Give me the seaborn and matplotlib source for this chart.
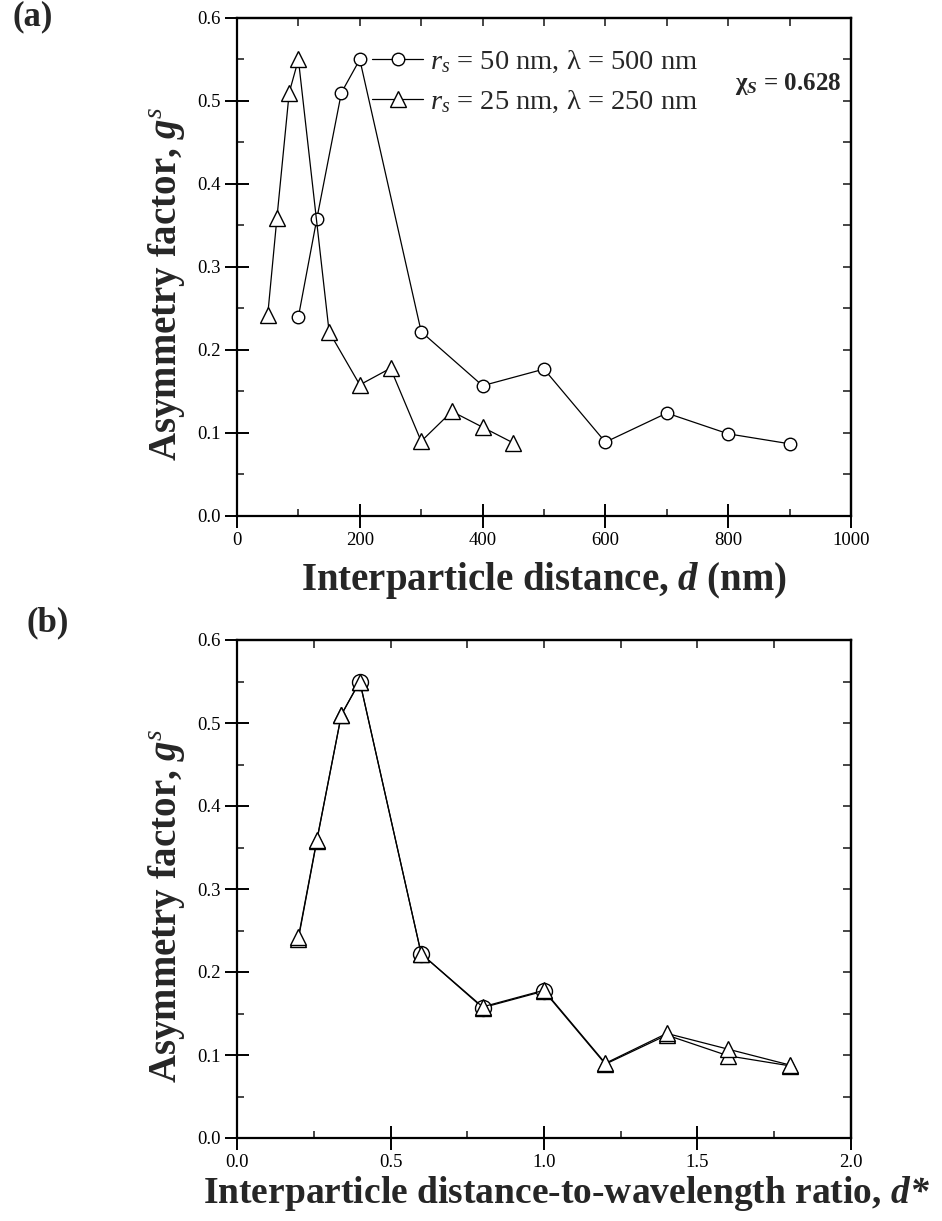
import matplotlib
matplotlib.use("Agg")
import matplotlib.pyplot as plt
import seaborn as sns
import numpy as np
from matplotlib.lines import Line2D
from matplotlib.ticker import MultipleLocator, NullFormatter

sns.set_theme(style="ticks")
plt.rcParams["font.family"] = ["Liberation Serif", "DejaVu Serif"]
plt.rcParams["mathtext.fontset"] = "custom"
plt.rcParams["mathtext.rm"] = "Liberation Serif"
plt.rcParams["mathtext.it"] = "Liberation Serif:italic"
plt.rcParams["mathtext.bf"] = "Liberation Serif:italic:bold"

# r_s = 50 nm, lambda = 500 nm
d_50 = [100, 130, 170, 200, 300, 400, 500, 600, 700, 800, 900]
g_50 = [0.240, 0.358, 0.510, 0.550, 0.222, 0.157, 0.177, 0.089, 0.124, 0.099, 0.087]
lam_50 = 500

# r_s = 25 nm, lambda = 250 nm
d_25 = [50, 65, 85, 100, 150, 200, 250, 300, 350, 400, 450]
g_25 = [0.242, 0.359, 0.510, 0.550, 0.222, 0.158, 0.178, 0.090, 0.126, 0.107, 0.088]
lam_25 = 250

label_50 = r"$r_s$ = 50 nm, λ = 500 nm"
label_25 = r"$r_s$ = 25 nm, λ = 250 nm"

W, H = 942, 1221
fig = plt.figure(figsize=(W / 100, H / 100), dpi=100)

def axes_box(left, top, right, bottom):
    return [left / W, 1 - bottom / H, (right - left) / W, (bottom - top) / H]

ax_a = fig.add_axes(axes_box(237, 18, 851, 516))
ax_b = fig.add_axes(axes_box(237, 640, 851, 1138))

line_kw = dict(color="black", linewidth=0.9, markerfacecolor="white",
               markeredgecolor="black", markeredgewidth=1.0)

# Panel (a): asymmetry factor vs distance
sns.lineplot(x=d_50, y=g_50, ax=ax_a, sort=False, marker="o", markersize=9,
             estimator=None, **line_kw)
sns.lineplot(x=d_25, y=g_25, ax=ax_a, sort=False, marker="^", markersize=11.5,
             estimator=None, **line_kw)

# Panel (b): asymmetry factor vs distance-to-wavelength ratio
ds_50 = np.array(d_50) / lam_50
ds_25 = np.array(d_25) / lam_25
sns.lineplot(x=ds_50, y=g_50, ax=ax_b, sort=False, marker="^", markersize=12,
             estimator=None, **line_kw)
sns.lineplot(x=ds_50, y=g_50, ax=ax_b, sort=False, marker="o", markersize=11.5,
             estimator=None, linestyle="none", markevery=[3, 4, 5, 6], **line_kw)
sns.lineplot(x=ds_25, y=g_25, ax=ax_b, sort=False, marker="^", markersize=12,
             estimator=None, **line_kw)

def style_axes(ax, xmax, xmajor, xminor, xlabel, xfmt, xl_size, xl_x, xl_y):
    ax.set_xlim(0, xmax)
    ax.set_ylim(0, 0.6)
    ax.xaxis.set_major_locator(MultipleLocator(xmajor))
    ax.xaxis.set_minor_locator(MultipleLocator(xminor))
    ax.yaxis.set_major_locator(MultipleLocator(0.1))
    ax.yaxis.set_minor_locator(MultipleLocator(0.05))
    ax.xaxis.set_major_formatter(xfmt)
    ax.yaxis.set_major_formatter(lambda v, p: f"{v:.1f}")
    for s in ax.spines.values():
        s.set_linewidth(1.6)
        s.set_color("black")
    ax.tick_params(which="major", direction="inout", length=17, width=1.4,
                   labelsize=13.5, colors="black", pad=3)
    ax.tick_params(which="minor", direction="in", length=5, width=1.2)
    ax.tick_params(which="both", top=False, right=False)

    # Inward ticks on the top and right frame, no labels
    top = ax.secondary_xaxis("top")
    top.xaxis.set_major_locator(MultipleLocator(xminor))
    top.xaxis.set_major_formatter(NullFormatter())
    top.tick_params(direction="in", length=6, width=1.2)
    right = ax.secondary_yaxis("right")
    right.yaxis.set_major_locator(MultipleLocator(0.05))
    right.yaxis.set_major_formatter(NullFormatter())
    right.tick_params(direction="in", length=6, width=1.2)
    for sec in (top, right):
        for s in sec.spines.values():
            s.set_linewidth(1.6)

    ax.set_xlabel(xlabel, fontsize=xl_size, fontweight="bold")
    ax.xaxis.set_label_coords(xl_x, xl_y)
    ax.set_ylabel(r"Asymmetry factor, $\mathbf{g}^{s}$", fontsize=28,
                  fontweight="bold")
    ax.yaxis.set_label_coords(-0.082, 0.466)

style_axes(ax_a, 1000, 200, 100, r"Interparticle distance, $\mathbf{d}$ (nm)",
           lambda v, p: f"{v:.0f}", 28, 0.5, -0.088)
style_axes(ax_b, 2.0, 0.5, 0.25,
           r"Interparticle distance-to-wavelength ratio, $\mathbf{d{*}}$",
           lambda v, p: f"{v:.1f}", 27, 0.537, -0.072)

handles = [
    Line2D([], [], marker="o", markersize=9, **line_kw),
    Line2D([], [], marker="^", markersize=11.5, **line_kw),
]
ax_a.legend(handles, [label_50, label_25], loc="center left",
            bbox_to_anchor=(0.22, 0.872), frameon=False, fontsize=20.5,
            handlelength=1.8, handletextpad=0.25, labelspacing=0.5,
            borderaxespad=0, borderpad=0)

ax_a.text(0.985, 0.868, r"χ$_\mathbf{S}$ = 0.628", transform=ax_a.transAxes,
          ha="right", va="center", fontsize=18, fontweight="bold")

fig.text(12 / W, 1 - 17 / H, "(a)", fontsize=25, fontweight="bold",
         ha="left", va="center")
fig.text(27 / W, 1 - 623 / H, "(b)", fontsize=25, fontweight="bold",
         ha="left", va="center")

fig.savefig("out.png", dpi=100)
